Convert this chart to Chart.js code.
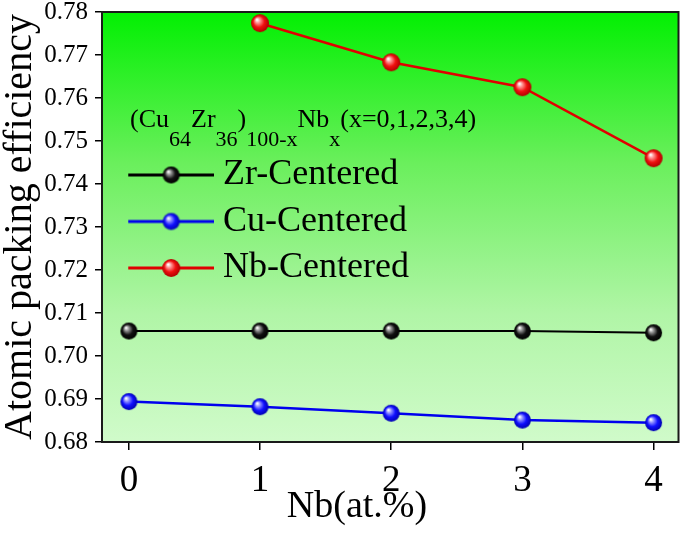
<!DOCTYPE html>
<html>
<head>
<meta charset="utf-8">
<script src="https://cdn.jsdelivr.net/npm/chart.js@4/dist/chart.umd.min.js"></script>
<style>
  body { margin: 0; background: #fff; }
</style>
</head>
<body>
<canvas id="packing-chart" width="685" height="536"></canvas>
<script>
const xValues = [0, 1, 2, 3, 4];
const zrCentered = [0.7058, 0.7058, 0.7058, 0.7058, 0.7054];
const cuCentered = [0.6894, 0.6882, 0.6867, 0.6851, 0.6845];
const nbCentered = [null, 0.7774, 0.7683, 0.7625, 0.7460];
const yTicks = [0.68, 0.69, 0.70, 0.71, 0.72, 0.73, 0.74, 0.75, 0.76, 0.77, 0.78];
const seriesNames = ['Zr-Centered', 'Cu-Centered', 'Nb-Centered'];
const formula = [['(Cu', 0], ['64', 1], ['Zr', 0], ['36', 1], [')', 0], ['100-x', 1], ['Nb', 0], ['x', 1], ['(x=0,1,2,3,4)', 0]];

const serif = '"Liberation Serif", "Times New Roman", serif';
Chart.defaults.font.family = serif;
Chart.defaults.color = '#000';

function sphere(base, light, dark, r) {
  const c = document.createElement('canvas');
  c.width = c.height = 2 * r + 2;
  const ctx = c.getContext('2d');
  const m = r + 1;
  const g = ctx.createRadialGradient(m - r * 0.35, m - r * 0.4, 0.5, m, m, r);
  g.addColorStop(0, '#ffffff');
  g.addColorStop(0.22, light);
  g.addColorStop(0.6, base);
  g.addColorStop(1, dark);
  ctx.fillStyle = g;
  ctx.beginPath();
  ctx.arc(m, m, r, 0, Math.PI * 2);
  ctx.fill();
  return c;
}

// legend icon: line with a sphere on it
function legendIcon(color, ball, width, lineStart, ballX) {
  const c = document.createElement('canvas');
  c.width = width;
  c.height = 22;
  const ctx = c.getContext('2d');
  ctx.strokeStyle = color;
  ctx.lineWidth = 3;
  ctx.beginPath();
  ctx.moveTo(lineStart, 11);
  ctx.lineTo(width, 11);
  ctx.stroke();
  ctx.drawImage(ball, ballX - ball.width / 2, 11 - ball.height / 2);
  return c;
}

const colors = ['#000000', '#0000ee', '#e00000'];
const balls = [
  sphere('#111111', '#9a9a9a', '#000000', 8.5),
  sphere('#1010ff', '#9a9aff', '#0000b0', 8.5),
  sphere('#f01010', '#ff9a9a', '#b00000', 9)
];
const icons = colors.map((c, i) => legendIcon(c, balls[i], 111, 25, 68));

const seriesData = [zrCentered, cuCentered, nbCentered];

const background = {
  id: 'background',
  beforeDraw(chart) {
    const { ctx, chartArea: a } = chart;
    const g = ctx.createLinearGradient(0, a.top, 0, a.bottom);
    g.addColorStop(0, '#02f002');
    g.addColorStop(0.35, '#6aef5c');
    g.addColorStop(0.7, '#b0f5a6');
    g.addColorStop(1, '#d0fbca');
    ctx.save();
    ctx.fillStyle = g;
    ctx.fillRect(a.left, a.top, a.right - a.left, a.bottom - a.top);
    ctx.restore();
  },
  afterDraw(chart) {
    const { ctx, chartArea: a } = chart;
    ctx.save();
    ctx.strokeStyle = '#1a1a1a';
    ctx.lineWidth = 2;
    ctx.strokeRect(a.left, a.top, a.right - a.left, a.bottom - a.top);
    // formula note
    let x = 130;
    const base = 127;
    ctx.fillStyle = '#000';
    ctx.textBaseline = 'alphabetic';
    formula.forEach(([t, sub]) => {
      ctx.font = (sub ? '22px ' : '26px ') + serif;
      ctx.fillText(t, x, sub ? base + 19 : base);
      x += ctx.measureText(t).width;
    });
    ctx.restore();
  }
};

new Chart(document.getElementById('packing-chart'), {
  type: 'line',
  data: {
    datasets: seriesNames.map((name, i) => ({
      label: name,
      data: xValues.map((x, j) => ({ x: x, y: seriesData[i][j] })),
      borderColor: colors[i],
      borderWidth: i === 0 ? 2 : 2.5,
      pointStyle: balls[i],
      tension: 0
    }))
  },
  options: {
    responsive: false,
    animation: false,
    layout: { padding: { top: 12, right: 3, left: 0, bottom: 0 } },
    plugins: {
      tooltip: { enabled: false },
      legend: {
        position: 'chartArea',
        align: 'start',
        title: { display: true, text: ' ', font: { size: 10, lineHeight: 1 }, padding: { top: 136.5, bottom: 0 } },
        labels: {
          usePointStyle: true,
          pointStyleWidth: 92.5,
          boxHeight: 20,
          padding: 10.5,
          color: '#000',
          font: { family: serif, size: 36 },
          generateLabels: (chart) => chart.data.datasets.map((ds, i) => ({
            text: ds.label,
            fillStyle: colors[i],
            strokeStyle: colors[i],
            fontColor: '#000',
            lineWidth: 0,
            pointStyle: icons[i],
            hidden: false,
            datasetIndex: i
          }))
        }
      }
    },
    scales: {
      x: {
        type: 'linear',
        min: -0.205,
        max: 4.19,
        afterFit: (s) => { s.height = 94; s.paddingLeft = 0; s.paddingRight = 0; },
        afterBuildTicks: (s) => { s.ticks = xValues.map(v => ({ value: v })); },
        grid: { display: true, drawOnChartArea: false, drawTicks: true, tickLength: 8, color: '#000', lineWidth: 1.5 },
        border: { display: false },
        ticks: { color: '#000', padding: 9, font: { family: serif, size: 37 } },
        title: {
          display: true,
          text: 'Nb(at.%)       ',
          color: '#000',
          font: { family: serif, size: 38 },
          padding: { top: 0, bottom: 6 }
        }
      },
      y: {
        min: 0.68,
        max: 0.78,
        afterFit: (s) => { s.width = 102; },
        afterBuildTicks: (s) => { s.ticks = yTicks.map(v => ({ value: v })); },
        grid: { display: true, drawOnChartArea: false, drawTicks: true, tickLength: 7, color: '#000', lineWidth: 1.5 },
        border: { display: false },
        ticks: { color: '#000', padding: 7, font: { family: serif, size: 25, lineHeight: 0.4 }, callback: (v) => v.toFixed(2) },
        title: {
          display: true,
          text: 'Atomic packing efficiency',
          color: '#000',
          font: { family: serif, size: 40, lineHeight: 1.0 },
          padding: { top: 0, bottom: 0 }
        }
      }
    }
  },
  plugins: [background]
});
</script>
</body>
</html>
